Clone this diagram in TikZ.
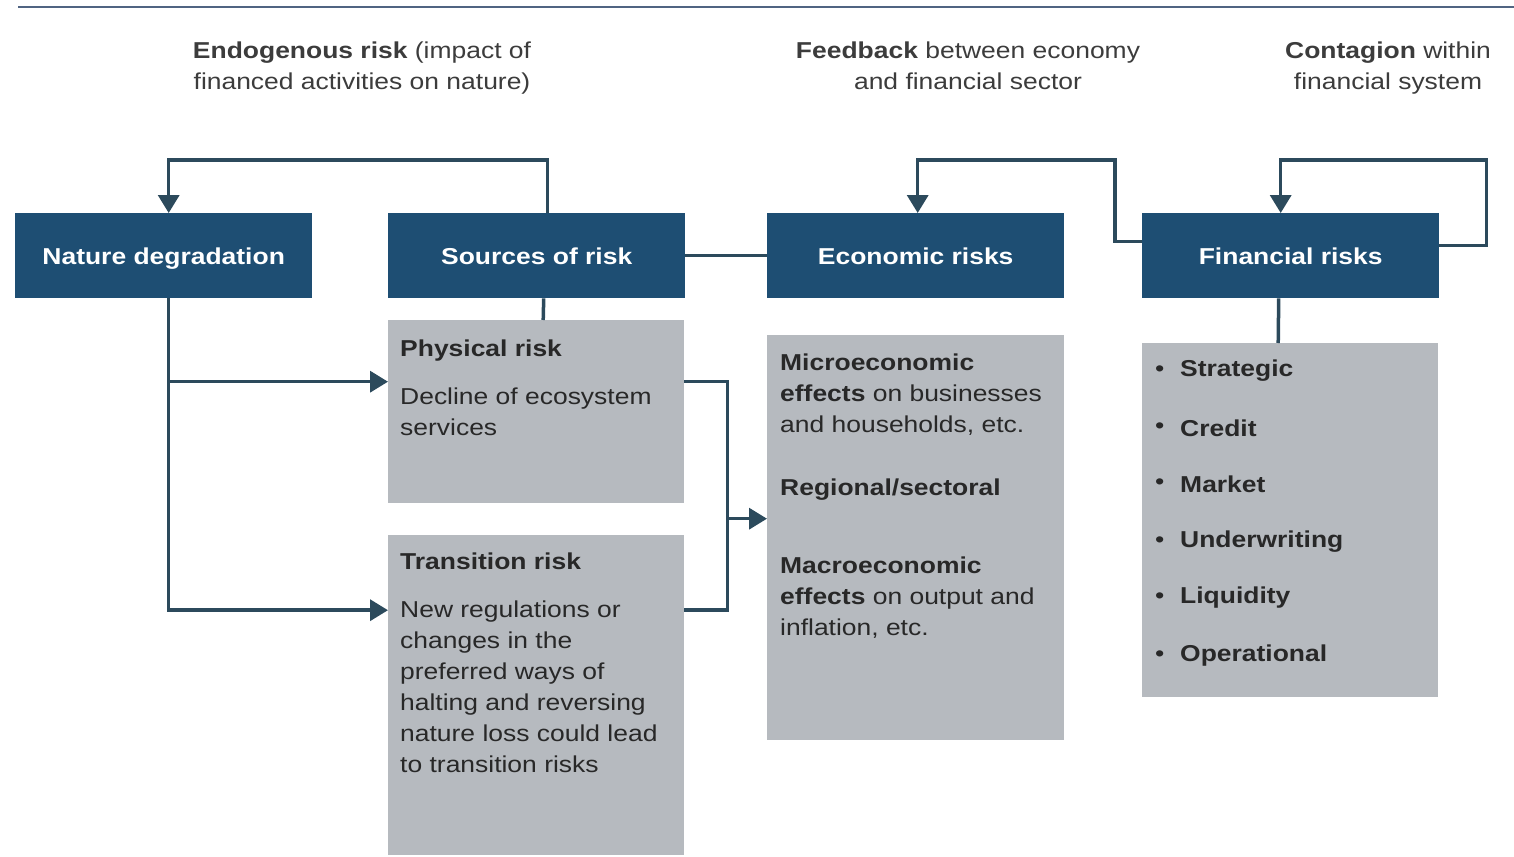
\documentclass[tikz,border=0pt]{standalone}
\usepackage{fontspec}
\setmainfont[FakeStretch=1.15]{Liberation Sans}
\usetikzlibrary{arrows.meta}
\definecolor{navy}{RGB}{30,78,115}
\definecolor{boxgray}{RGB}{182,186,191}
\definecolor{conn}{RGB}{44,74,92}
\definecolor{txt}{RGB}{40,40,40}
\definecolor{note}{RGB}{60,60,60}
\definecolor{rule}{RGB}{80,100,130}
\begin{document}
\begin{tikzpicture}[x=1pt,y=-1pt,
  darkbox/.style={fill=navy, draw=none, minimum width=297pt, minimum height=85pt, anchor=north west, inner sep=0pt, text=white, text height=20pt, text depth=2pt, font=\fontsize{23}{27}\selectfont\bfseries},
  graybox/.style={fill=boxgray, draw=none, anchor=north west, inner sep=0pt},
  boxtext/.style={anchor=north west, inner sep=0pt, align=left, text=txt, font=\fontsize{23}{31}\selectfont},
  notetext/.style={anchor=north, inner sep=0pt, align=center, text=note, font=\fontsize{23}{31}\selectfont},
  connline/.style={draw=conn, line width=3.5pt},
  arr/.style={connline, -{Triangle[length=18pt,width=21pt]}}
]
\useasboundingbox (0,0) rectangle (1514,856);
% top rule
\coordinate (ruleL) at (18,7);
\coordinate (ruleR) at (1514,7);
\draw[rule, line width=1.8pt] (ruleL) -- (ruleR);

% annotations
\node[notetext] (n1) at (362,42) {\textbf{Endogenous risk} (impact of\\financed activities on nature)};
\node[notetext] (n2) at (968,42) {\textbf{Feedback} between economy\\and financial sector};
\node[notetext] (n3) at (1388,42) {\textbf{Contagion} within\\financial system};

% dark boxes
\node[darkbox] (nat) at (15,213) {Nature degradation};
\node[darkbox] (src) at (388,213) {Sources of risk};
\node[darkbox] (eco) at (767,213) {Economic risks};
\node[darkbox] (fin) at (1142,213) {Financial risks};

% gray boxes
\node[graybox, minimum width=296pt, minimum height=183pt] (phys) at (388,320) {};
\node[graybox, minimum width=296pt, minimum height=320pt] (trans) at (388,535) {};
\node[graybox, minimum width=297pt, minimum height=405pt] (ecobox) at (767,335) {};
\node[graybox, minimum width=296pt, minimum height=354pt] (finbox) at (1142,343) {};

% gray box texts
\node[boxtext] (physT) at (400,340) {\textbf{Physical risk}};
\node[boxtext] (physB) at (400,388) {Decline of ecosystem\\services};
\node[boxtext] (transT) at (400,553) {\textbf{Transition risk}};
\node[boxtext] (transB) at (400,601) {New regulations or\\changes in the\\preferred ways of\\halting and reversing\\nature loss could lead\\to transition risks};
\node[boxtext] (micro) at (780,354) {\textbf{Microeconomic}\\\textbf{effects} on businesses\\and households, etc.};
\node[boxtext] (regio) at (780,479) {\textbf{Regional/sectoral}};
\node[boxtext] (macro) at (780,557) {\textbf{Macroeconomic}\\\textbf{effects} on output and\\inflation, etc.};

\foreach \t/\y [count=\i] in {Strategic/371,Credit/428,Market/484,Underwriting/542,Liquidity/598,Operational/656}{
  \node[boxtext, anchor=west] (bul\i) at (1155,\y) {\textbullet};
  \node[boxtext, anchor=west, font=\fontsize{23}{31}\selectfont\bfseries] (item\i) at (1180,\y) {\t};
}

% connectors
\draw[arr] ([xshift=11pt]src.north) -- ++(0,-53) -| ([xshift=5pt]nat.north);
\draw[connline] (src.east) -- (eco.west);
\draw[arr] ([yshift=14pt]fin.west) -- ++(-27,0) |- ([xshift=2pt,yshift=53pt]eco.north) -- ([xshift=2pt]eco.north);
\draw[arr] ([yshift=10pt]fin.east) -- ++(47,0) |- ([xshift=-10pt,yshift=53pt]fin.north) -- ([xshift=-10pt]fin.north);
\draw[arr] ([xshift=5pt]nat.south) |- ([yshift=30pt]phys.west);
\draw[arr] ([xshift=5pt]nat.south) |- ([yshift=85pt]trans.west);
\draw[connline] ([xshift=7pt]src.south) -- ([xshift=7pt]phys.north);
\draw[connline] ([yshift=30pt]phys.east) -- ++(43,0) |- ([yshift=85pt]trans.east);
\draw[arr] ([xshift=-40pt,yshift=19pt]ecobox.west) -- ([yshift=19pt]ecobox.west);
\draw[connline] ([xshift=-12pt]fin.south) -- ([xshift=-12pt]finbox.north);
\end{tikzpicture}
\end{document}
